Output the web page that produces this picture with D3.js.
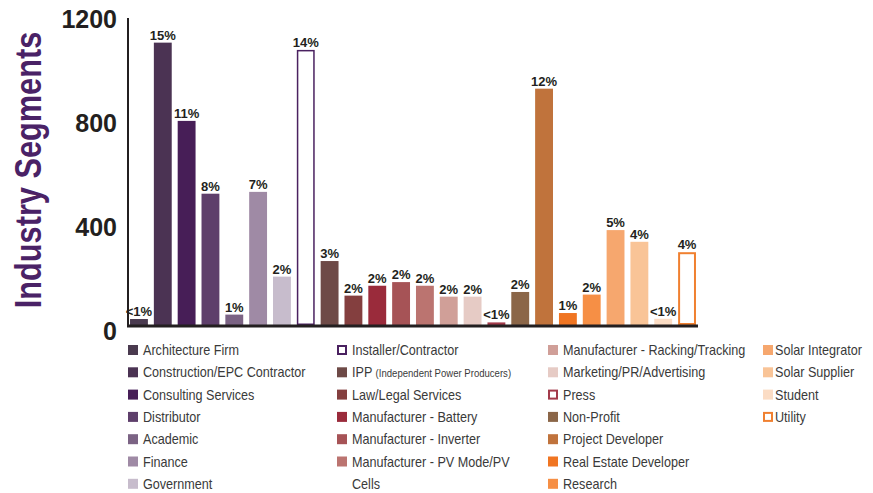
<!DOCTYPE html>
<html>
<head>
<meta charset="utf-8">
<script src="https://cdn.jsdelivr.net/npm/d3@7"></script>
<style>
    body { margin: 0; background: #fff; }
    svg { display: block; }
</style>
</head>
<body>
<div id="chart"></div>
<script>

// bar chart of industry segments

const categories = [
    'Architecture Firm', 'Construction/EPC Contractor', 'Consulting Services', 'Distributor',
    'Academic', 'Finance', 'Government', 'Installer/Contractor', 'IPP',
    'Law/Legal Services', 'Manufacturer - Battery', 'Manufacturer - Inverter',
    'Manufacturer - PV Mode/PV Cells', 'Manufacturer - Racking/Tracking', 'Marketing/PR/Advertising',
    'Press', 'Non-Profit', 'Project Developer', 'Real Estate Developer', 'Research',
    'Solar Integrator', 'Solar Supplier', 'Student', 'Utility'
];

const counts = [
    23, 1086, 785, 505, 40, 512, 186, 1058, 246, 113, 151, 165,
    151, 109, 109, 10, 127, 909, 46, 117, 365, 320, 24, 280
];

const percentLabels = [
    '<1%', '15%', '11%', '8%', '1%', '7%', '2%', '14%', '3%', '2%', '2%', '2%',
    '2%', '2%', '2%', '<1%', '2%', '12%', '1%', '2%', '5%', '4%', '<1%', '4%'
];

const yTicks = [0, 400, 800, 1200];

// colours, one per segment
const barColors = [
    '#4a3a4f', '#4b3353', '#471e57', '#5e3f6b', '#7b6384', '#9f8aa5', '#c7bccc',
    '#4a2160', '#6e4a47', '#843f3f', '#9a2b3b', '#a65356', '#bb7470', '#d09f98',
    '#e6cbc5', '#a33a4a', '#8b6648', '#c0733c', '#f07522', '#f68f45', '#f6a76e',
    '#f9c497', '#fbdcc4', '#f08030'
];

// these segments are drawn as empty boxes
const outlined = ['Installer/Contractor', 'Press', 'Utility'];

// first item of each legend column
const legendBreaks = [0, 7, 13, 20];

const narrowFont = '"Liberation Sans", Arial, sans-serif';


class BarChart {

    constructor(parentElement) {
        this.parentElement = parentElement;
        this.data = categories.map((c, i) => ({
            segment: c, value: counts[i], label: percentLabels[i], color: barColors[i]
        }));

        this.initVis();
    }

    initVis() {
        let vis = this;

        vis.margin = {top: 13, right: 175, bottom: 168, left: 128};
        vis.width = 873 - vis.margin.left - vis.margin.right;
        vis.height = 493 - vis.margin.top - vis.margin.bottom;

        vis.root = d3.select('#' + vis.parentElement).append('svg')
            .attr('width', 873)
            .attr('height', 493);

        vis.svg = vis.root.append('g')
            .attr('transform', `translate(${vis.margin.left}, ${vis.margin.top})`);

        vis.xScale = d3.scaleBand()
            .domain(categories)
            .range([0, vis.width])
            .paddingInner(0.25)
            .paddingOuter(0.085);

        vis.yScale = d3.scaleLinear()
            .domain([0, 1200])
            .range([vis.height, 0]);

        // vertical axis title, squeezed along its length
        vis.root.append('text')
            .attr('transform', 'translate(41, 170) rotate(-90) scale(0.83, 1)')
            .attr('text-anchor', 'middle')
            .style('font-family', narrowFont)
            .style('font-weight', 700)
            .style('font-size', '37px')
            .style('fill', '#4a2266')
            .text('Industry Segments');

        vis.updateVis();
        vis.drawLegend();
    }

    updateVis() {
        let vis = this;

        // y axis, labels only
        let yAxis = d3.axisLeft(vis.yScale)
            .tickValues(yTicks)
            .tickFormat(d3.format('d'))
            .tickSize(0)
            .tickPadding(11);

        let yg = vis.svg.append('g')
            .attr('class', 'y-axis axis')
            .call(yAxis);
        yg.select('.domain').remove();
        yg.selectAll('text')
            .attr('dy', '0.56em')
            .style('font-family', '"Liberation Sans", Arial, sans-serif')
            .style('font-weight', 700)
            .style('font-size', '25px')
            .style('fill', '#231f20');

        vis.svg.append('line')
            .attr('x1', 0).attr('x2', 0)
            .attr('y1', vis.height)
            .attr('y2', vis.yScale(1200) + 5)
            .attr('stroke', '#231f20')
            .attr('stroke-width', 2);

        // bars
        vis.svg.selectAll('.bar')
            .data(vis.data)
            .enter()
            .append('rect')
            .attr('class', 'bar')
            .each(function (d) {
                let sel = d3.select(this);
                let x = vis.xScale(d.segment);
                let y = vis.yScale(d.value);
                let w = vis.xScale.bandwidth();
                let h = vis.height - y;
                if (outlined.includes(d.segment)) {
                    let sw = d.segment === 'Utility' ? 2 : 1.5;
                    sel.attr('x', x + sw / 2).attr('y', y + sw / 2)
                        .attr('width', w - sw).attr('height', Math.max(h - sw, 0.5))
                        .attr('fill', '#fff')
                        .attr('stroke', d.color)
                        .attr('stroke-width', sw);
                } else {
                    sel.attr('x', x).attr('y', y)
                        .attr('width', w).attr('height', h)
                        .attr('fill', d.color);
                }
            });

        // percentage labels
        vis.svg.selectAll('.pct')
            .data(vis.data)
            .enter()
            .append('text')
            .attr('class', 'pct')
            .attr('x', d => vis.xScale(d.segment) + vis.xScale.bandwidth() / 2)
            .attr('y', d => vis.yScale(d.value) - 3)
            .attr('text-anchor', 'middle')
            .style('font-family', '"Liberation Sans", Arial, sans-serif')
            .style('font-weight', 700)
            .style('font-size', '13px')
            .style('fill', '#231f20')
            .text(d => d.label);

        // baseline
        vis.svg.append('line')
            .attr('x1', -1).attr('x2', vis.width)
            .attr('y1', vis.height + 1).attr('y2', vis.height + 1)
            .attr('stroke', '#231f20')
            .attr('stroke-width', 3);
    }

    drawLegend() {
        let vis = this;

        let colX = [128, 337, 548, 763];
        let rowY = 350;
        let rowStep = 22.3;

        let legend = vis.root.append('g').attr('class', 'legend');

        // condensed look: squeeze the text sideways
        let addLabel = function (item, x, y) {
            return item.append('g')
                .attr('transform', `translate(${x}, ${y}) scale(0.87, 1)`)
                .append('text')
                .style('font-family', narrowFont)
                .style('font-size', '14.5px')
                .style('fill', '#3a3a3a');
        };

        vis.data.forEach(function (d, i) {
            let col = d3.bisectRight(legendBreaks, i) - 1;
            let row = i - legendBreaks[col];
            let cx = colX[col];
            let cy = rowY + row * rowStep;

            let item = legend.append('g')
                .attr('transform', `translate(${cx}, ${cy})`);

            if (outlined.includes(d.segment)) {
                item.append('rect')
                    .attr('x', 1).attr('y', -4).attr('width', 8).attr('height', 8)
                    .attr('fill', '#fff')
                    .attr('stroke', d.color)
                    .attr('stroke-width', 2);
            } else {
                item.append('rect')
                    .attr('x', 0).attr('y', -5).attr('width', 10).attr('height', 10)
                    .attr('fill', d.color);
            }

            let tx = col === 3 ? 12 : 15;
            let txt = addLabel(item, tx, 5);

            if (d.segment === 'IPP') {
                txt.append('tspan').text('IPP ');
                txt.append('tspan').style('font-size', '11px').text('(Independent Power Producers)');
            } else if (d.segment === 'Manufacturer - PV Mode/PV Cells') {
                txt.text('Manufacturer - PV Mode/PV');
                addLabel(item, tx, 5 + rowStep).text('Cells');
            } else {
                txt.text(d.segment);
            }
        });
    }
}

new BarChart('chart');

</script>
</body>
</html>
